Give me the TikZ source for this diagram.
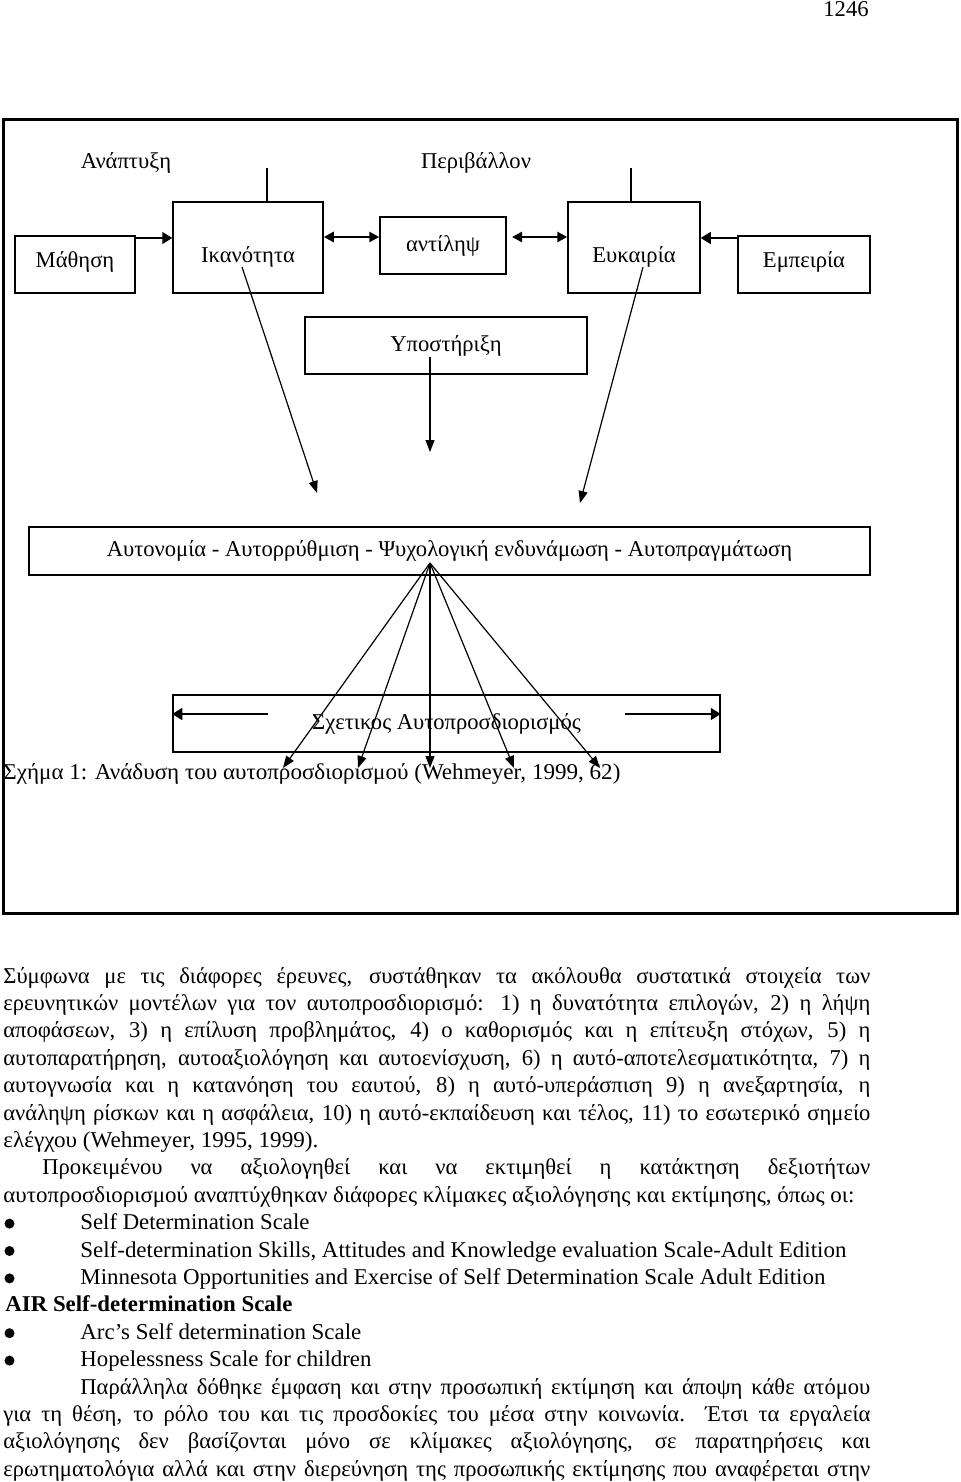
\documentclass[tikz,border=0pt]{standalone}
\usepackage{fontspec}
\setmainfont{Liberation Serif}
\usepackage{graphicx}
\usetikzlibrary{arrows.meta}
\newlength\pxu
\setlength\pxu{0.5pt}
\newsavebox\linebox
\newcommand\txt{\fontsize{11.3}{13}\selectfont}
\newcommand\jline[2]{\sbox\linebox{#2}\ifdim\wd\linebox>#1\relax\resizebox{#1}{\height}{\usebox\linebox}\else\makebox[#1][s]{#2}\fi}
\newcommand\nline[2]{\resizebox{#1}{\height}{#2}}
\tikzset{
    plain_text/.style = {inner sep=0pt, font=\txt},
    text_line/.style = {plain_text, anchor=base west},
    box_node/.style = {draw=black, line width=0.75pt, inner sep=0pt, font=\txt},
    bullet_dot/.style = {circle, fill=black, inner sep=0pt, minimum size=5pt},
    link/.style = {line width=0.6pt},
    tip_arrow/.style = {link, -{Triangle[length=6pt,width=4.5pt]}},
    side_arrow/.style = {line width=0.8pt, -{Triangle[length=5pt,width=6pt]}},
    both_arrow/.style = {line width=1.3pt, {Triangle[length=5pt,width=5pt]}-{Triangle[length=5pt,width=5pt]}}
}
\begin{document}
\begin{tikzpicture}[x=0.5pt, y=-0.5pt]
\useasboundingbox (0,0) rectangle (960,1482);

\node[text_line] (page_num) at (823,17) {1246};
\node[draw=black, line width=1.5pt, inner sep=0pt, minimum width=954\pxu, minimum height=793\pxu] (frame) at (480,516.5) {};

\node[plain_text] (anaptixi) at (126,163) {Ανάπτυξη};
\node[plain_text] (perivallon) at (476,163) {Περιβάλλον};

\node[box_node, minimum width=120\pxu, minimum height=57\pxu] (mathisi) at (75,264.5) {};
\node[box_node, minimum width=150\pxu, minimum height=91\pxu] (ikanotita) at (248,247.5) {};
\node[box_node, minimum width=126\pxu, minimum height=57\pxu] (antilipsi) at (443,245.5) {αντίληψ};
\node[box_node, minimum width=132\pxu, minimum height=91\pxu] (efkairia) at (634,247.5) {};
\node[box_node, minimum width=132\pxu, minimum height=57\pxu] (empeiria) at (804,264.5) {};
\node[box_node, minimum width=282\pxu, minimum height=57\pxu] (ypostirixi) at (446,345.5) {Υποστήριξη};
\node[box_node, line width=1pt, minimum width=841\pxu, minimum height=48\pxu] (aftonomia) at (449.5,551) {Αυτονομία - Αυτορρύθμιση - Ψυχολογική ενδυνάμωση - Αυτοπραγμάτωση};
\node[box_node, minimum width=547\pxu, minimum height=57\pxu] (sxetikos) at (446.5,723.5) {Σχετικος Αυτοπροσδιορισμός};

\node[plain_text, yshift=1.5pt] (mathisi_txt) at (mathisi) {Μάθηση};
\node[plain_text, yshift=-4.5pt] (ikanotita_txt) at (ikanotita) {Ικανότητα};
\node[plain_text, yshift=-4.5pt] (efkairia_txt) at (efkairia) {Ευκαιρία};
\node[plain_text, yshift=1.5pt] (empeiria_txt) at (empeiria) {Εμπειρία};

\coordinate (anaptixi_line) at (267,168);
\coordinate (perivallon_line) at (631,168);
\draw[link] (anaptixi_line) -- (anaptixi_line |- ikanotita.north);
\draw[link] (perivallon_line) -- (perivallon_line |- efkairia.north);

\coordinate (mathisi_out) at (135,238);
\coordinate (empeiria_out) at (738,238);
\coordinate (antilipsi_out) at (512,237);
\draw[side_arrow] (mathisi_out) -- (mathisi_out -| ikanotita.west);
\draw[side_arrow] (empeiria_out) -- (empeiria_out -| efkairia.east);
\draw[both_arrow] (ikanotita.east |- 0,237) -- (antilipsi.west |- 0,237);
\draw[both_arrow] (antilipsi_out) -- (antilipsi_out -| efkairia.west);

\coordinate (ikanotita_in) at (242,267);
\coordinate (ikanotita_tip) at (317,493);
\coordinate (ypostirixi_in) at (430,357);
\coordinate (ypostirixi_tip) at (430,452);
\coordinate (efkairia_in) at (643,267);
\coordinate (efkairia_tip) at (580,503);
\draw[tip_arrow] (ikanotita_in) -- (ikanotita_tip);
\draw[tip_arrow] (ypostirixi_in) -- (ypostirixi_tip);
\draw[tip_arrow] (efkairia_in) -- (efkairia_tip);

\coordinate (apex) at (430,563);
\foreach \x [count=\i] in {283,358,430,514,600} {
    \coordinate (fan\i) at (\x,768);
    \draw[tip_arrow] (apex) -- (fan\i);
}

\coordinate (sxetikos_l) at (268,714);
\coordinate (sxetikos_r) at (625,714);
\draw[side_arrow] (sxetikos_l) -- (sxetikos_l -| sxetikos.west);
\draw[side_arrow] (sxetikos_r) -- (sxetikos_r -| sxetikos.east);

\node[text_line] (caption) at (3,779) {\nline{617\pxu}{Σχήμα 1: Ανάδυση του αυτοπροσδιορισμού (Wehmeyer, 1999, 62)}};

\node[text_line] (l1) at (3,983) {\jline{867\pxu}{Σύμφωνα με τις διάφορες έρευνες, συστάθηκαν τα ακόλουθα συστατικά στοιχεία των}};
\node[text_line] (l2) at (3,1010.4) {\jline{867\pxu}{ερευνητικών μοντέλων για τον αυτοπροσδιορισμό: 1) η δυνατότητα επιλογών, 2) η λήψη}};
\node[text_line] (l3) at (3,1037.8) {\jline{867\pxu}{αποφάσεων, 3) η επίλυση προβλημάτος, 4) ο καθορισμός και η επίτευξη στόχων, 5) η}};
\node[text_line] (l4) at (3,1065.2) {\jline{867\pxu}{αυτοπαρατήρηση, αυτοαξιολόγηση και αυτοενίσχυση, 6) η αυτό-αποτελεσματικότητα, 7) η}};
\node[text_line] (l5) at (3,1092.6) {\jline{867\pxu}{αυτογνωσία και η κατανόηση του εαυτού, 8) η αυτό-υπεράσπιση 9) η ανεξαρτησία, η}};
\node[text_line] (l6) at (3,1120) {\jline{867\pxu}{ανάληψη ρίσκων και η ασφάλεια, 10) η αυτό-εκπαίδευση και τέλος, 11) το εσωτερικό σημείο}};
\node[text_line] (l7) at (3,1147.4) {\nline{315\pxu}{ελέγχου (Wehmeyer, 1995, 1999).}};
\node[text_line] (l8) at (42,1174.8) {\jline{828\pxu}{Προκειμένου να αξιολογηθεί και να εκτιμηθεί η κατάκτηση δεξιοτήτων}};
\node[text_line] (l9) at (3,1202.2) {\nline{851\pxu}{αυτοπροσδιορισμού αναπτύχθηκαν διάφορες κλίμακες αξιολόγησης και εκτίμησης, όπως οι:}};

\foreach \y [count=\i] in {1223.6,1251,1278.4,1333.2,1360.6} {
    \node[bullet_dot] (bullet\i) at (9.5,\y) {};
}
\node[text_line] (l10) at (80,1229.6) {\nline{229\pxu}{Self Determination Scale}};
\node[text_line] (l11) at (80,1257) {\nline{766\pxu}{Self-determination Skills, Attitudes and Knowledge evaluation Scale-Adult Edition}};
\node[text_line] (l12) at (80,1284.4) {\nline{745\pxu}{Minnesota Opportunities and Exercise of Self Determination Scale Adult Edition}};
\node[text_line, font=\txt\bfseries] (l13) at (5,1311.8) {\nline{287\pxu}{AIR Self-determination Scale}};
\node[text_line] (l14) at (80,1339.2) {\nline{281\pxu}{Arc’s Self determination Scale}};
\node[text_line] (l15) at (80,1366.6) {\nline{291\pxu}{Hopelessness Scale for children}};

\node[text_line] (l16) at (80,1394) {\jline{790\pxu}{Παράλληλα δόθηκε έμφαση και στην προσωπική εκτίμηση και άποψη κάθε ατόμου}};
\node[text_line] (l17) at (3,1421.4) {\jline{867\pxu}{για τη θέση, το ρόλο του και τις προσδοκίες του μέσα στην κοινωνία. Έτσι τα εργαλεία}};
\node[text_line] (l18) at (3,1448.8) {\jline{867\pxu}{αξιολόγησης δεν βασίζονται μόνο σε κλίμακες αξιολόγησης, σε παρατηρήσεις και}};
\node[text_line] (l19) at (3,1476.2) {\jline{867\pxu}{ερωτηματολόγια αλλά και στην διερεύνηση της προσωπικής εκτίμησης που αναφέρεται στην}};
\end{tikzpicture}
\end{document}
